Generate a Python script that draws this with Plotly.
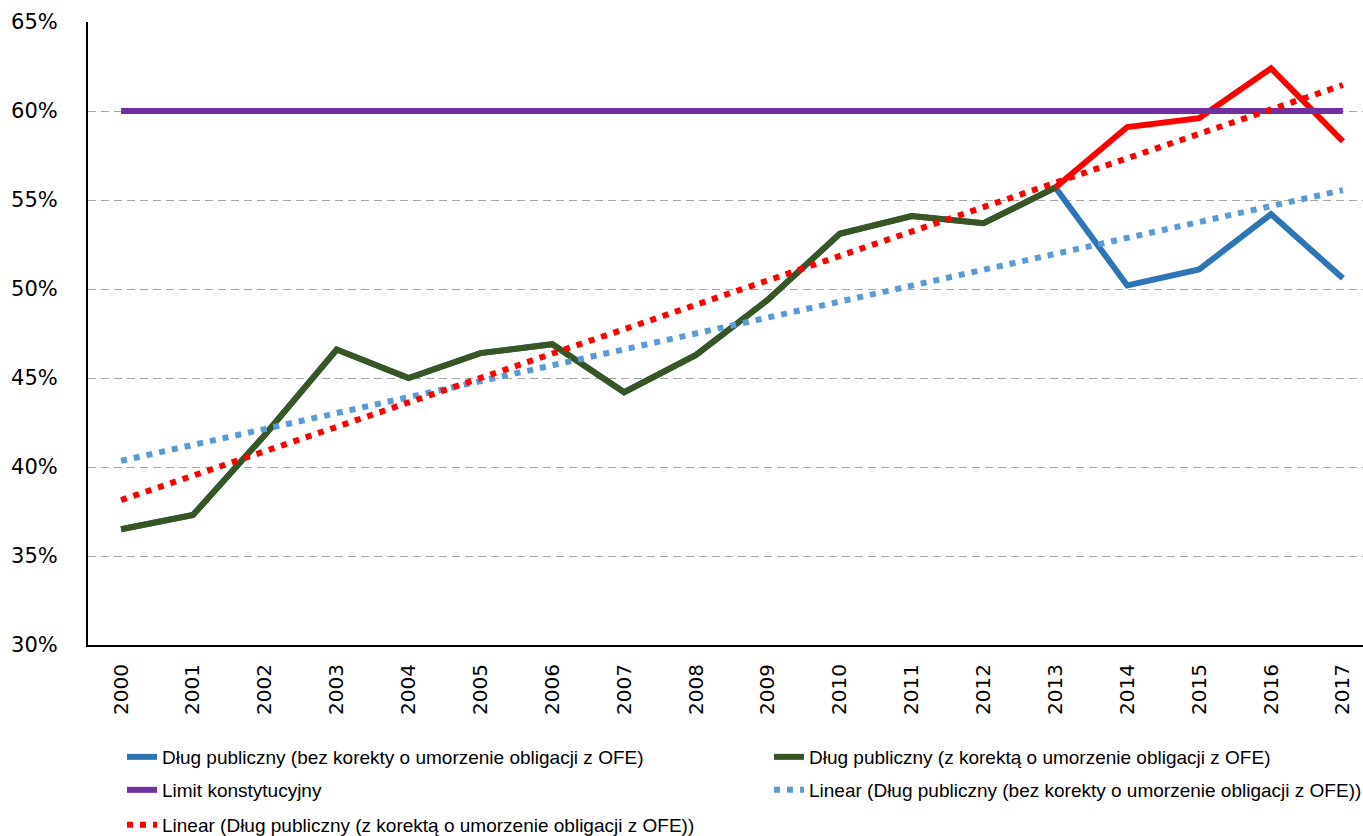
import numpy as np
import plotly.graph_objects as go

# data (% of GDP)
years = list(range(2000, 2018))
debt_no_corr = [36.5, 37.3, 41.8, 46.6, 45.0, 46.4, 46.9, 44.2, 46.3,
                49.4, 53.1, 54.1, 53.7, 55.7, 50.2, 51.1, 54.2, 50.6]
debt_corr = [36.5, 37.3, 41.8, 46.6, 45.0, 46.4, 46.9, 44.2, 46.3,
             49.4, 53.1, 54.1, 53.7, 55.7, 59.1, 59.6, 62.4, 58.3]
limit = [60.0] * len(years)
split_year = 2013

NAME_NO = "Dług publiczny (bez korekty o umorzenie obligacji z OFE)"
NAME_CORR = "Dług publiczny (z korektą o umorzenie obligacji z OFE)"
NAME_LIMIT = "Limit konstytucyjny"

# Excel-style linear trendlines (least squares over the plotted series)
x_idx = np.arange(len(years))
trend_no = np.polyval(np.polyfit(x_idx, debt_no_corr, 1), x_idx)
trend_corr = np.polyval(np.polyfit(x_idx, debt_corr, 1), x_idx)

k = years.index(split_year)

BLUE = "#2E75B6"
GREEN = "#375623"
PURPLE = "#7030A0"
RED = "#FF0000"
LIGHT_BLUE = "#5B9BD5"
LW = 6
DOTS = "6px,7px"

fig = go.Figure()

fig.add_trace(go.Scatter(
    x=years, y=debt_no_corr, name=NAME_NO, mode="lines",
    line=dict(color=BLUE, width=LW), legend="legend",
))
fig.add_trace(go.Scatter(
    x=years[k:], y=debt_corr[k:], name=NAME_CORR, mode="lines",
    line=dict(color=RED, width=LW), showlegend=False,
))
fig.add_trace(go.Scatter(
    x=years[:k + 1], y=debt_corr[:k + 1], name=NAME_CORR, mode="lines",
    line=dict(color=GREEN, width=LW), legend="legend2",
))
fig.add_trace(go.Scatter(
    x=years, y=limit, name=NAME_LIMIT, mode="lines",
    line=dict(color=PURPLE, width=LW), legend="legend3",
))
fig.add_trace(go.Scatter(
    x=years, y=trend_no, name=f"Linear ({NAME_NO})", mode="lines",
    line=dict(color=LIGHT_BLUE, width=LW, dash=DOTS), legend="legend4",
))
fig.add_trace(go.Scatter(
    x=years, y=trend_corr, name=f"Linear ({NAME_CORR})", mode="lines",
    line=dict(color=RED, width=LW, dash=DOTS), legend="legend5",
))

legend_font = dict(family="Liberation Sans, Arial, sans-serif", size=19, color="#000000")


def legend_box(x_px, y_px):
    return dict(
        orientation="h", xref="container", yref="container",
        xanchor="left", yanchor="middle", font=legend_font,
        x=x_px / 1363, y=1 - y_px / 836,
        bgcolor="rgba(0,0,0,0)", itemwidth=30,
    )


fig.update_layout(
    width=1363, height=836,
    paper_bgcolor="white", plot_bgcolor="white",
    margin=dict(l=88, r=0, t=22, b=191, autoexpand=False),
    font=dict(family="DejaVu Sans, Verdana, sans-serif", color="#000000"),
    legend=legend_box(122, 757),
    legend2=legend_box(769, 757),
    legend3=legend_box(122, 790),
    legend4=legend_box(769, 790),
    legend5=legend_box(122, 825),
    xaxis=dict(
        range=[1999.54, 2017.28], tickmode="array", tickvals=years,
        ticktext=[str(y) for y in years], tickangle=-90,
        tickfont=dict(size=20), showgrid=False, showline=True,
        linecolor="#000000", linewidth=2, ticks="", zeroline=False,
        ticklabelstandoff=9,
    ),
    yaxis=dict(
        range=[30, 65], dtick=5, ticksuffix="%", tickfont=dict(size=21),
        showgrid=True, gridcolor="#A6A6A6", gridwidth=1, griddash="8px,5px",
        showline=True, linecolor="#000000", linewidth=2, ticks="",
        zeroline=False, ticklabelstandoff=24,
    ),
)

# the page's default body margin would shift the 1363x836 figure by 8px
fig.write_html(
    "out.html",
    config={"displayModeBar": False},
    post_script="document.body.style.margin = '0px';",
)
